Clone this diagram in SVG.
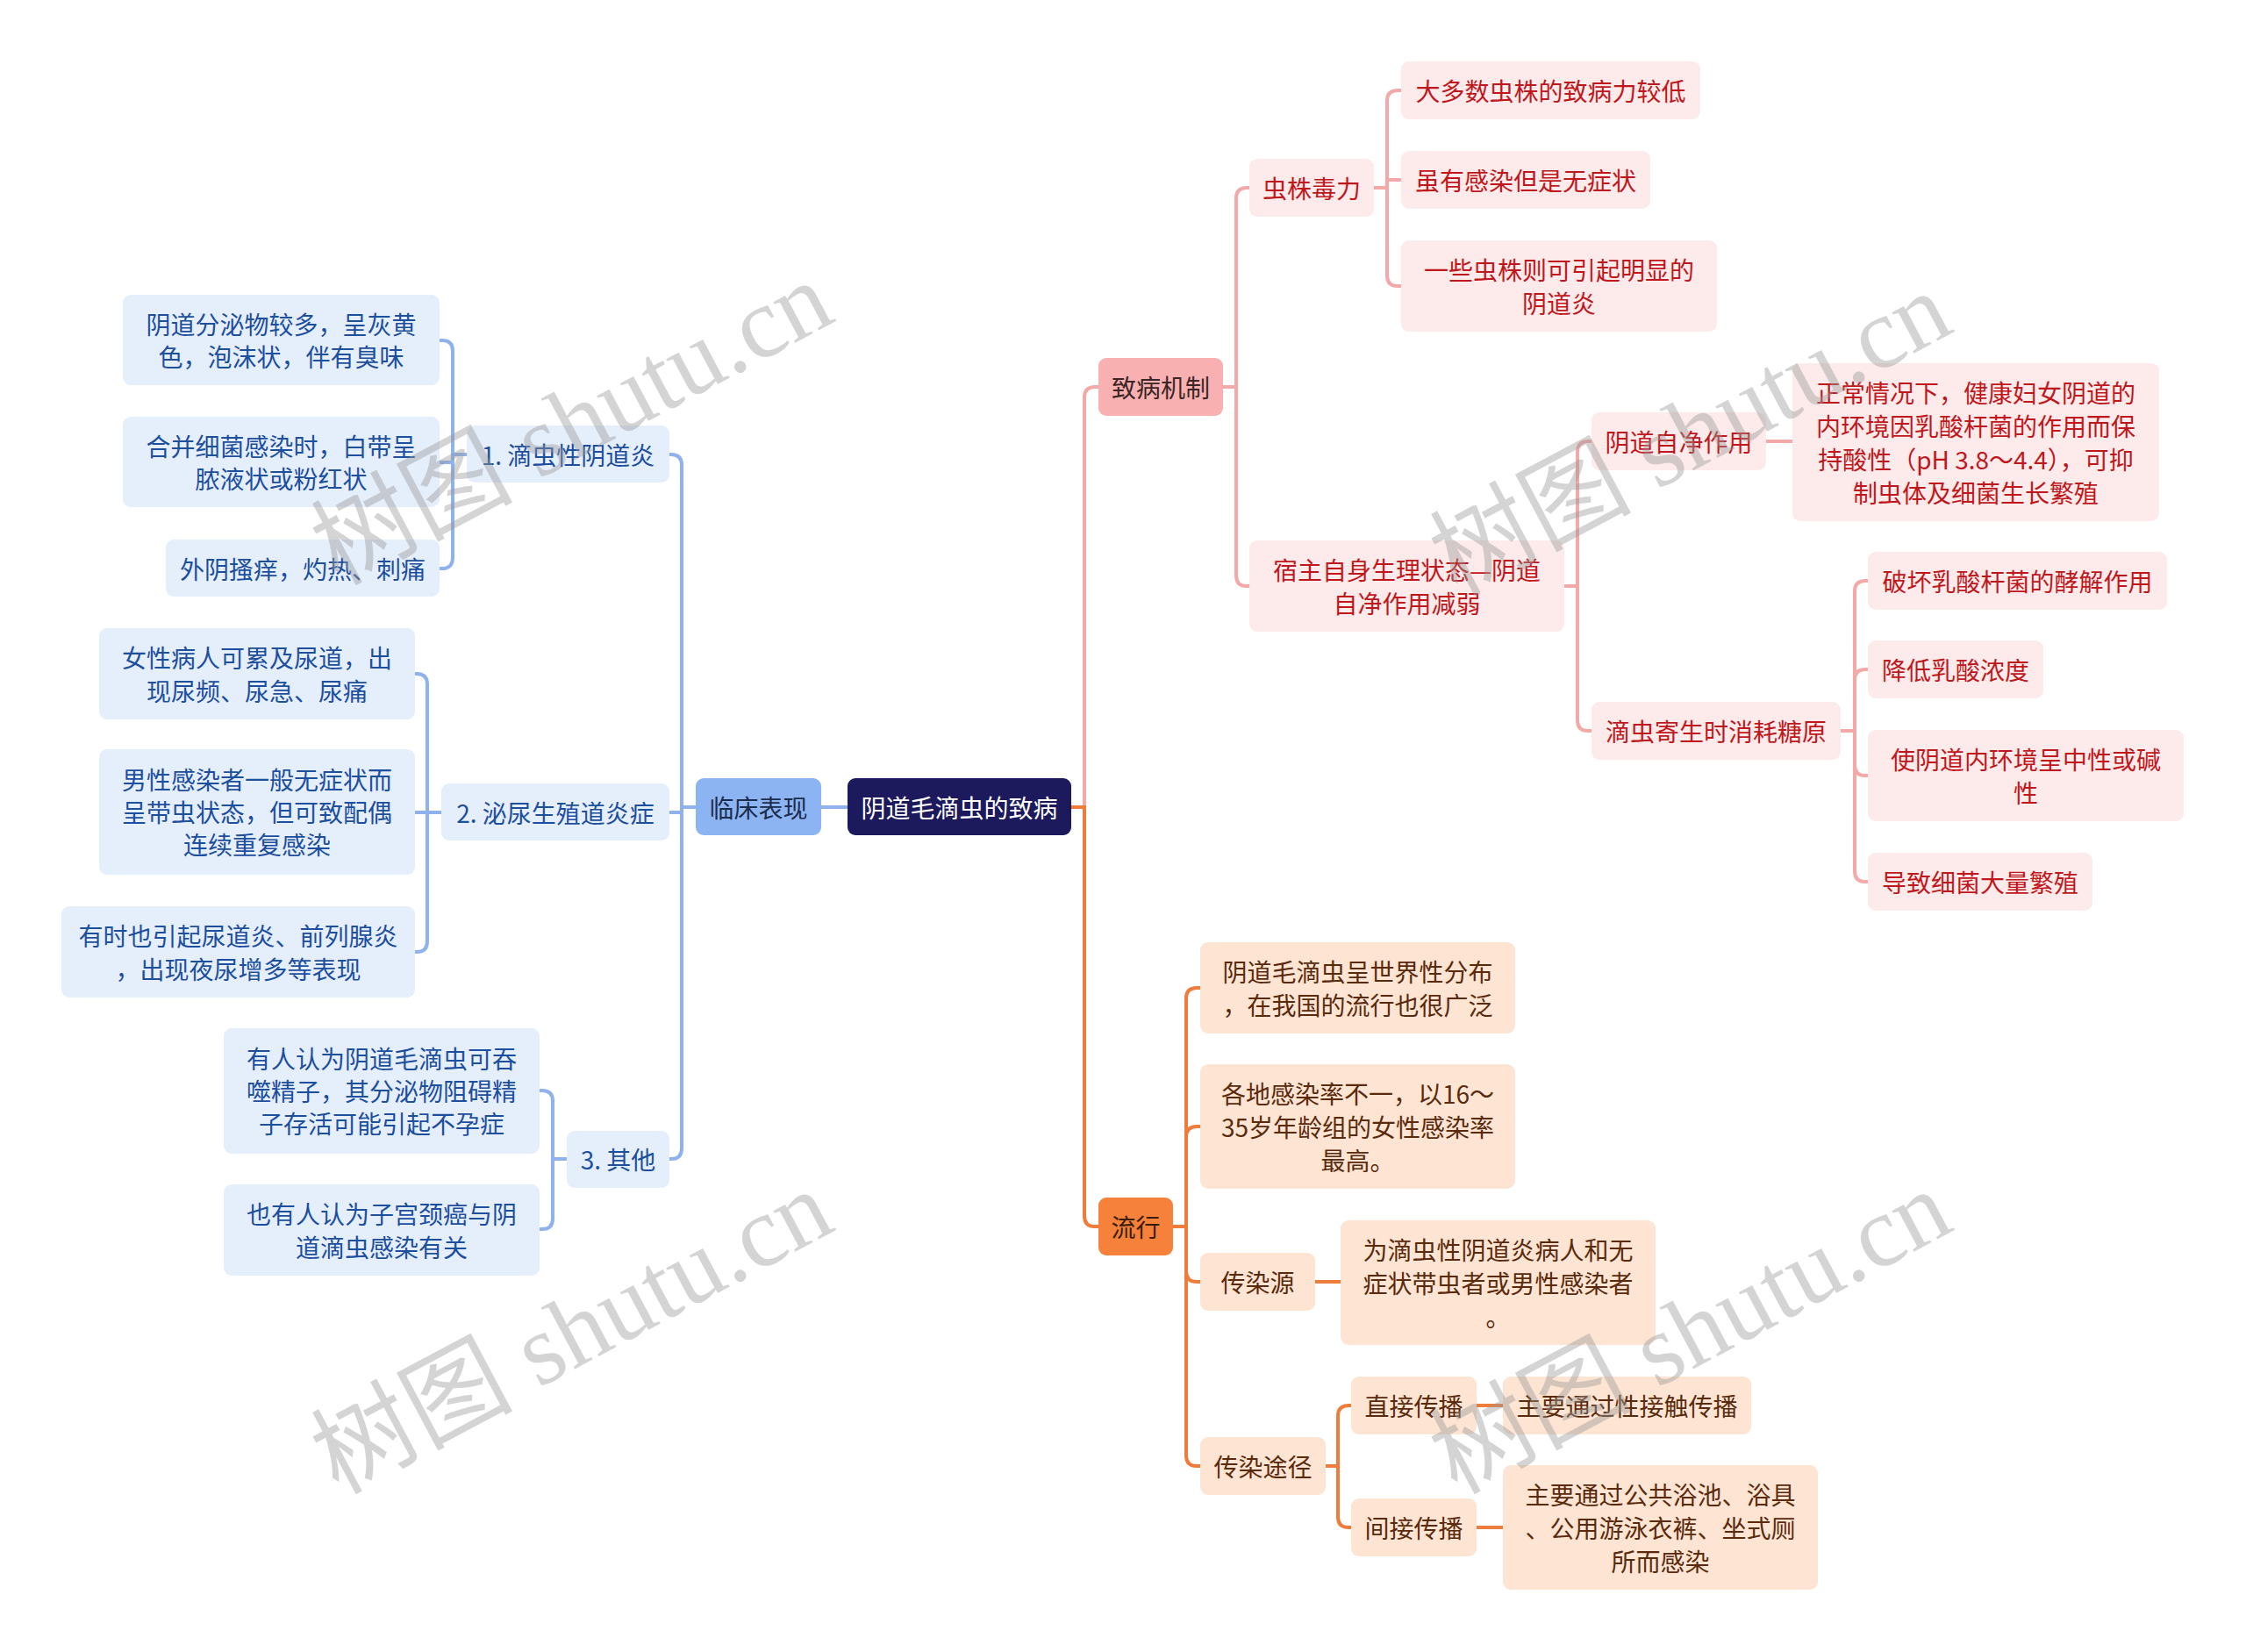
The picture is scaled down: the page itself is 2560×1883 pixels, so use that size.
<svg xmlns="http://www.w3.org/2000/svg" width="2560" height="1883" viewBox="0 0 2560 1883">
<style>
text{font-family:"Noto Sans CJK SC","Noto Sans",sans-serif;font-size:28px;text-anchor:middle;dominant-baseline:central}
.root rect{fill:#1c1a5c}.root text{fill:#ffffff}
.b1 rect{fill:#8db4f2}.b1 text{fill:#1c2c4c}
.b2 rect{fill:#e5eefb}.b2 text{fill:#1d4f9f}
.p1 rect{fill:#f8b0b0}.p1 text{fill:#3a2626}
.p2 rect{fill:#fdeaea}.p2 text{fill:#c0171c}
.o1 rect{fill:#f5813a}.o1 text{fill:#3a1c08}
.o2 rect{fill:#fde4d3}.o2 text{fill:#5b2a0c}
.cb{fill:none;stroke:#8fb2ee;stroke-width:4}
.cp{fill:none;stroke:#f4a9a9;stroke-width:4}
.co{fill:none;stroke:#ee7c3a;stroke-width:4}
.wm{font-family:"Liberation Serif","Noto Sans CJK SC",serif;font-size:115px;fill:#9a9a9a;opacity:0.42;text-anchor:start;dominant-baseline:alphabetic}
</style>
<g id="connectors">
<path class="cb" d="M966 920 H936"/>
<path class="cb" d="M793 920 H777 V530 Q777 518 765 518 H763"/>
<path class="cb" d="M793 920 H777 V926 H763"/>
<path class="cb" d="M793 920 H777 V1309 Q777 1321 765 1321 H763"/>
<path class="cb" d="M532 518 H516 V400 Q516 388 504 388 H501"/>
<path class="cb" d="M532 518 H516 V527 H501"/>
<path class="cb" d="M532 518 H516 V636 Q516 648 504 648 H501"/>
<path class="cb" d="M503 926 H487 V780 Q487 768 475 768 H473"/>
<path class="cb" d="M503 926 H473"/>
<path class="cb" d="M503 926 H487 V1073 Q487 1085 475 1085 H473"/>
<path class="cb" d="M646 1321 H630 V1255 Q630 1243 618 1243 H615"/>
<path class="cb" d="M646 1321 H630 V1389 Q630 1401 618 1401 H615"/>
<path class="cp" d="M1221 920 H1236 V453 Q1236 441 1248 441 H1252"/>
<path class="co" d="M1221 920 H1236 V1386 Q1236 1398 1248 1398 H1252"/>
<path class="cp" d="M1394 441 H1409 V226 Q1409 214 1421 214 H1424"/>
<path class="cp" d="M1394 441 H1409 V656 Q1409 668 1421 668 H1424"/>
<path class="cp" d="M1566 214 H1581 V115 Q1581 103 1593 103 H1597"/>
<path class="cp" d="M1566 214 H1581 V205 H1597"/>
<path class="cp" d="M1566 214 H1581 V314 Q1581 326 1593 326 H1597"/>
<path class="cp" d="M1783 668 H1798 V515 Q1798 503 1810 503 H1814"/>
<path class="cp" d="M1783 668 H1798 V821 Q1798 833 1810 833 H1814"/>
<path class="cp" d="M2013 503 H2043"/>
<path class="cp" d="M2098 833 H2114 V674 Q2114 662 2126 662 H2129"/>
<path class="cp" d="M2098 833 H2114 V775 Q2114 763 2126 763 H2129"/>
<path class="cp" d="M2098 833 H2114 V872 Q2114 884 2126 884 H2129"/>
<path class="cp" d="M2098 833 H2114 V993 Q2114 1005 2126 1005 H2129"/>
<path class="co" d="M1337 1398 H1352 V1138 Q1352 1126 1364 1126 H1368"/>
<path class="co" d="M1337 1398 H1352 V1296 Q1352 1284 1364 1284 H1368"/>
<path class="co" d="M1337 1398 H1352 V1449 Q1352 1461 1364 1461 H1368"/>
<path class="co" d="M1337 1398 H1352 V1659 Q1352 1671 1364 1671 H1368"/>
<path class="co" d="M1499 1461 H1528"/>
<path class="co" d="M1511 1671 H1525 V1614 Q1525 1602 1537 1602 H1540"/>
<path class="co" d="M1511 1671 H1525 V1729 Q1525 1741 1537 1741 H1540"/>
<path class="co" d="M1683 1602 H1713"/>
<path class="co" d="M1683 1741 H1713"/>
</g>

<g id="root" class="root"><rect x="966" y="887" width="255" height="65" rx="9"/><text x="1093.5" y="920">阴道毛滴虫的致病</text></g>

<g id="n-clinical" class="b1"><rect x="793" y="887" width="143" height="65" rx="9"/><text x="864.5" y="920">临床表现</text></g>
<g id="n-c1" class="b2"><rect x="532" y="485" width="231" height="65" rx="9"/><text x="647.5" y="518">1. 滴虫性阴道炎</text></g>
<g id="n-c1a" class="b2"><rect x="140" y="336" width="361" height="103" rx="9"/><text x="320.5" y="369">阴道分泌物较多，呈灰黄</text><text x="320.5" y="406">色，泡沫状，伴有臭味</text></g>
<g id="n-c1b" class="b2"><rect x="140" y="475" width="361" height="103" rx="9"/><text x="320.5" y="508">合并细菌感染时，白带呈</text><text x="320.5" y="545">脓液状或粉红状</text></g>
<g id="n-c1c" class="b2"><rect x="189" y="615" width="312" height="65" rx="9"/><text x="345" y="648">外阴搔痒，灼热、刺痛</text></g>
<g id="n-c2" class="b2"><rect x="503" y="893" width="260" height="65" rx="9"/><text x="633" y="926">2. 泌尿生殖道炎症</text></g>
<g id="n-c2a" class="b2"><rect x="113" y="716" width="360" height="104" rx="9"/><text x="293" y="749">女性病人可累及尿道，出</text><text x="293" y="787">现尿频、尿急、尿痛</text></g>
<g id="n-c2b" class="b2"><rect x="113" y="854" width="360" height="143" rx="9"/><text x="293" y="888">男性感染者一般无症状而</text><text x="293" y="925">呈带虫状态，但可致配偶</text><text x="293" y="962">连续重复感染</text></g>
<g id="n-c2c" class="b2"><rect x="70" y="1033" width="403" height="104" rx="9"/><text x="271.5" y="1066">有时也引起尿道炎、前列腺炎</text><text x="271.5" y="1104">，出现夜尿增多等表现</text></g>
<g id="n-c3" class="b2"><rect x="646" y="1289" width="117" height="65" rx="9"/><text x="704.5" y="1321">3. 其他</text></g>
<g id="n-c3a" class="b2"><rect x="255" y="1172" width="360" height="143" rx="9"/><text x="435" y="1206">有人认为阴道毛滴虫可吞</text><text x="435" y="1243">噬精子，其分泌物阻碍精</text><text x="435" y="1280">子存活可能引起不孕症</text></g>
<g id="n-c3b" class="b2"><rect x="255" y="1350" width="360" height="104" rx="9"/><text x="435" y="1383">也有人认为子宫颈癌与阴</text><text x="435" y="1421">道滴虫感染有关</text></g>

<g id="n-mech" class="p1"><rect x="1252" y="408" width="142" height="66" rx="9"/><text x="1323" y="441">致病机制</text></g>
<g id="n-m1" class="p2"><rect x="1424" y="181" width="142" height="66" rx="9"/><text x="1495" y="214">虫株毒力</text></g>
<g id="n-m1a" class="p2"><rect x="1597" y="70" width="341" height="66" rx="9"/><text x="1767.5" y="103">大多数虫株的致病力较低</text></g>
<g id="n-m1b" class="p2"><rect x="1597" y="172" width="284" height="66" rx="9"/><text x="1739" y="205">虽有感染但是无症状</text></g>
<g id="n-m1c" class="p2"><rect x="1597" y="274" width="360" height="104" rx="9"/><text x="1777" y="307">一些虫株则可引起明显的</text><text x="1777" y="345">阴道炎</text></g>
<g id="n-m2" class="p2"><rect x="1424" y="616" width="359" height="104" rx="9"/><text x="1603.5" y="649">宿主自身生理状态—阴道</text><text x="1603.5" y="687">自净作用减弱</text></g>
<g id="n-m2a" class="p2"><rect x="1814" y="470" width="199" height="66" rx="9"/><text x="1913.5" y="503">阴道自净作用</text></g>
<g id="n-m2a1" class="p2"><rect x="2043" y="414" width="418" height="180" rx="9"/><text x="2252" y="447">正常情况下，健康妇女阴道的</text><text x="2252" y="485">内环境因乳酸杆菌的作用而保</text><text x="2252" y="523">持酸性（pH 3.8～4.4），可抑</text><text x="2252" y="561">制虫体及细菌生长繁殖</text></g>
<g id="n-m2b" class="p2"><rect x="1814" y="800" width="284" height="66" rx="9"/><text x="1956" y="833">滴虫寄生时消耗糖原</text></g>
<g id="n-m2b1" class="p2"><rect x="2129" y="629" width="341" height="66" rx="9"/><text x="2299.5" y="662">破坏乳酸杆菌的酵解作用</text></g>
<g id="n-m2b2" class="p2"><rect x="2129" y="730" width="200" height="66" rx="9"/><text x="2229" y="763">降低乳酸浓度</text></g>
<g id="n-m2b3" class="p2"><rect x="2129" y="832" width="360" height="104" rx="9"/><text x="2309" y="865">使阴道内环境呈中性或碱</text><text x="2309" y="903">性</text></g>
<g id="n-m2b4" class="p2"><rect x="2129" y="972" width="256" height="66" rx="9"/><text x="2257" y="1005">导致细菌大量繁殖</text></g>

<g id="n-epi" class="o1"><rect x="1252" y="1365" width="85" height="66" rx="9"/><text x="1294.5" y="1398">流行</text></g>
<g id="n-e1" class="o2"><rect x="1368" y="1074" width="359" height="104" rx="9"/><text x="1547.5" y="1107">阴道毛滴虫呈世界性分布</text><text x="1547.5" y="1145">，在我国的流行也很广泛</text></g>
<g id="n-e2" class="o2"><rect x="1368" y="1213" width="359" height="142" rx="9"/><text x="1547.5" y="1246">各地感染率不一，以16～</text><text x="1547.5" y="1284">35岁年龄组的女性感染率</text><text x="1547.5" y="1322">最高。</text></g>
<g id="n-e3" class="o2"><rect x="1368" y="1428" width="131" height="66" rx="9"/><text x="1433.5" y="1461">传染源</text></g>
<g id="n-e3a" class="o2"><rect x="1528" y="1391" width="359" height="142" rx="9"/><text x="1707.5" y="1424">为滴虫性阴道炎病人和无</text><text x="1707.5" y="1462">症状带虫者或男性感染者</text><text x="1707.5" y="1500">。</text></g>
<g id="n-e4" class="o2"><rect x="1368" y="1638" width="143" height="66" rx="9"/><text x="1439.5" y="1671">传染途径</text></g>
<g id="n-e4a" class="o2"><rect x="1540" y="1569" width="143" height="66" rx="9"/><text x="1611.5" y="1602">直接传播</text></g>
<g id="n-e4a1" class="o2"><rect x="1713" y="1569" width="283" height="66" rx="9"/><text x="1854.5" y="1602">主要通过性接触传播</text></g>
<g id="n-e4b" class="o2"><rect x="1540" y="1708" width="143" height="66" rx="9"/><text x="1611.5" y="1741">间接传播</text></g>
<g id="n-e4b1" class="o2"><rect x="1713" y="1670" width="359" height="142" rx="9"/><text x="1892.5" y="1703">主要通过公共浴池、浴具</text><text x="1892.5" y="1741">、公用游泳衣裤、坐式厕</text><text x="1892.5" y="1779">所而感染</text></g>

<g id="watermarks">
<text class="wm" transform="translate(385,668) rotate(-28)">树图 shutu.cn</text>
<text class="wm" transform="translate(1660,680) rotate(-28)">树图 shutu.cn</text>
<text class="wm" transform="translate(385,1704) rotate(-28)">树图 shutu.cn</text>
<text class="wm" transform="translate(1660,1704) rotate(-28)">树图 shutu.cn</text>
</g>
</svg>
